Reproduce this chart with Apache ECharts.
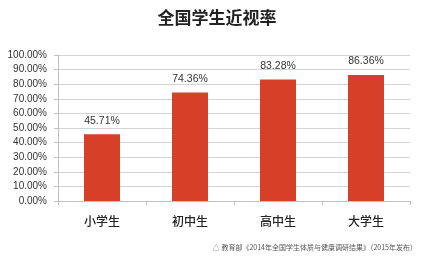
<!DOCTYPE html>
<html><head><meta charset="utf-8">
<script src="https://cdn.jsdelivr.net/npm/echarts@6/dist/echarts.min.js"></script>
<style>html,body{margin:0;padding:0;background:#fff}#c{width:434px;height:264px}</style>
</head><body><div id="c"></div>
<script>
const categories = ['小学生', '初中生', '高中生', '大学生'];
const rates = [45.71, 74.36, 83.28, 86.36];
const yTicks = [0, 10, 20, 30, 40, 50, 60, 70, 80, 90, 100];
const titleText = '全国学生近视率';
const sourceText = '△ 教育部《2014年全国学生体质与健康调研结果》（2015年发布）';

const chart = echarts.init(document.getElementById('c'), null, {renderer: 'canvas'});
chart.setOption({
  animation: false,
  backgroundColor: '#fff',
  title: [{
    text: titleText, left: 'center', top: 4,
    textStyle: {fontFamily: 'Noto Sans CJK SC', fontWeight: 'bold', fontSize: 17, color: '#222'}
  }, {
    text: sourceText, right: 12, top: 239,
    textStyle: {fontFamily: 'Noto Sans CJK SC', fontWeight: 'normal', fontSize: 7, color: '#555'}
  }],
  grid: {left: 58, right: 24, top: 55, bottom: 63},
  xAxis: {
    type: 'category', data: categories,
    axisLine: {lineStyle: {color: '#bfbfbf'}},
    axisTick: {show: true, length: 4, lineStyle: {color: '#bfbfbf'}},
    axisLabel: {margin: 14, fontSize: 12, fontWeight: 500, color: '#222', fontFamily: 'Noto Sans CJK SC'}
  },
  yAxis: {
    type: 'value', min: yTicks[0], max: yTicks[yTicks.length - 1], interval: 10,
    axisLine: {show: true, lineStyle: {color: '#bfbfbf'}},
    axisTick: {show: true, length: 4, lineStyle: {color: '#bfbfbf'}},
    splitLine: {lineStyle: {color: '#d4d4d4'}},
    axisLabel: {margin: 11, fontSize: 10, color: '#333', fontFamily: 'Liberation Sans',
      formatter: v => v.toFixed(2) + '%'}
  },
  series: [{
    type: 'bar', data: rates, barWidth: 36,
    itemStyle: {color: '#d63f28'},
    label: {show: true, position: 'top', distance: 8, fontSize: 10.5, color: '#333',
      fontFamily: 'Liberation Sans', formatter: p => p.value.toFixed(2) + '%'}
  }]
});
</script></body></html>
